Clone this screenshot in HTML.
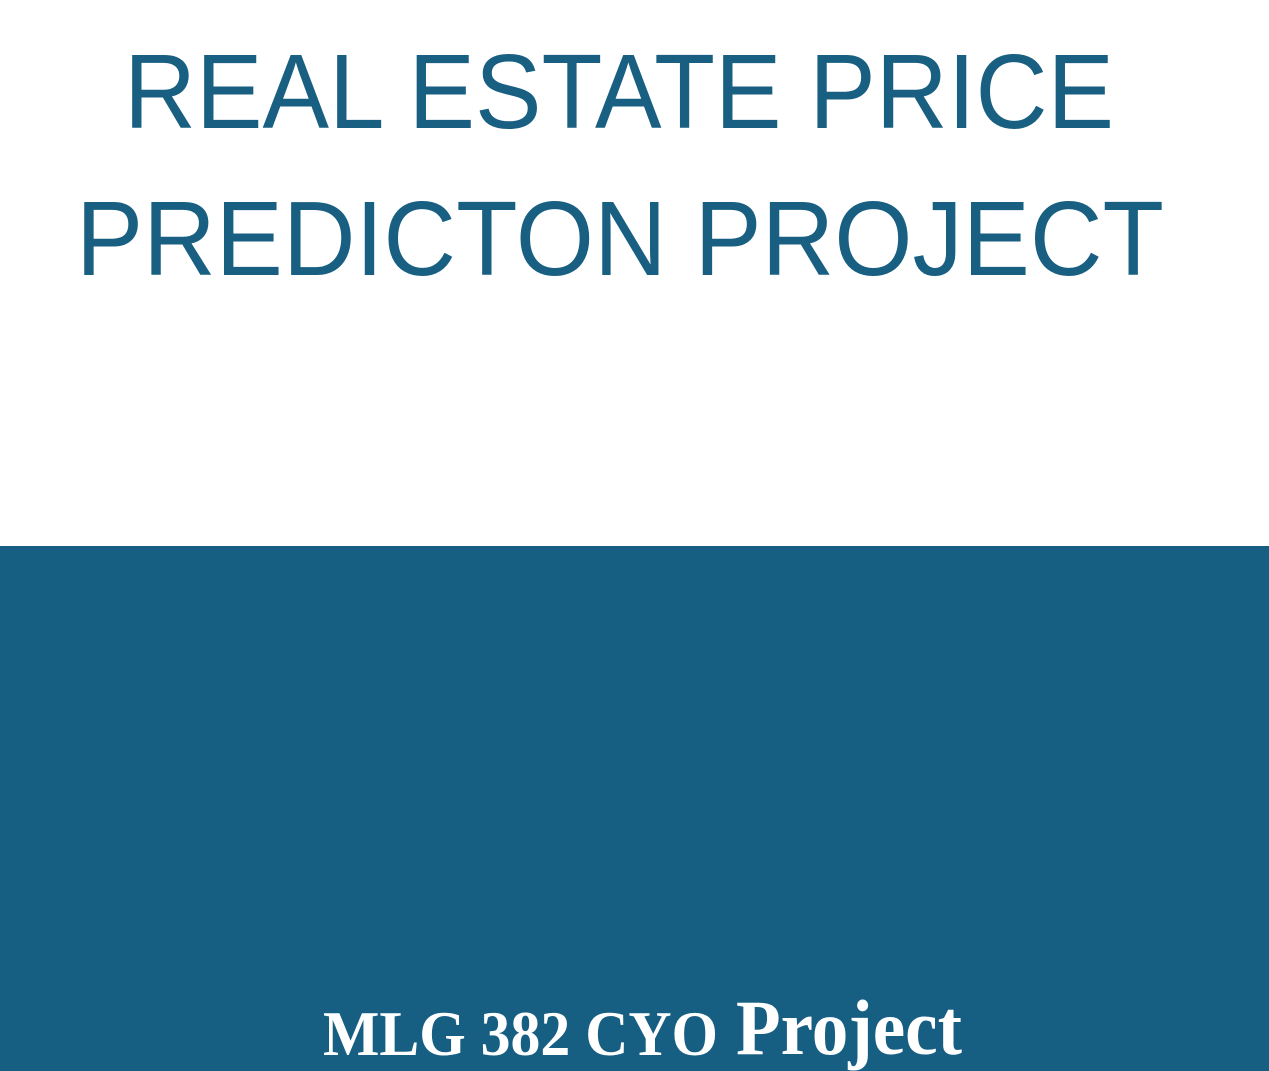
<!DOCTYPE html>
<html>
<head>
<meta charset="utf-8">
<style>
  html, body { margin: 0; padding: 0; }
  body { width: 1269px; height: 1071px; overflow: hidden; background: #ffffff; }
  svg { display: block; }
</style>
</head>
<body>
<svg width="1269" height="1071" viewBox="0 0 1269 1071">
  <rect x="0" y="0" width="1269" height="546" fill="#ffffff"/>
  <text x="124" y="128" font-family="Liberation Sans, sans-serif" font-size="106" fill="#185f82" textLength="990" lengthAdjust="spacingAndGlyphs">REAL ESTATE PRICE</text>
  <text x="76" y="275" font-family="Liberation Sans, sans-serif" font-size="106" fill="#185f82" textLength="1088" lengthAdjust="spacingAndGlyphs">PREDICTON PROJECT</text>
  <rect x="0" y="546" width="1269" height="525" fill="#175f82"/>
  <text x="323" y="1055" font-family="Liberation Serif, serif" font-weight="bold" font-size="64" fill="#ffffff" textLength="395" lengthAdjust="spacingAndGlyphs">MLG 382 CYO</text>
  <text x="736" y="1054" font-family="Liberation Serif, serif" font-weight="bold" font-size="78" fill="#ffffff" textLength="226" lengthAdjust="spacingAndGlyphs">Project</text>
</svg>
</body>
</html>
